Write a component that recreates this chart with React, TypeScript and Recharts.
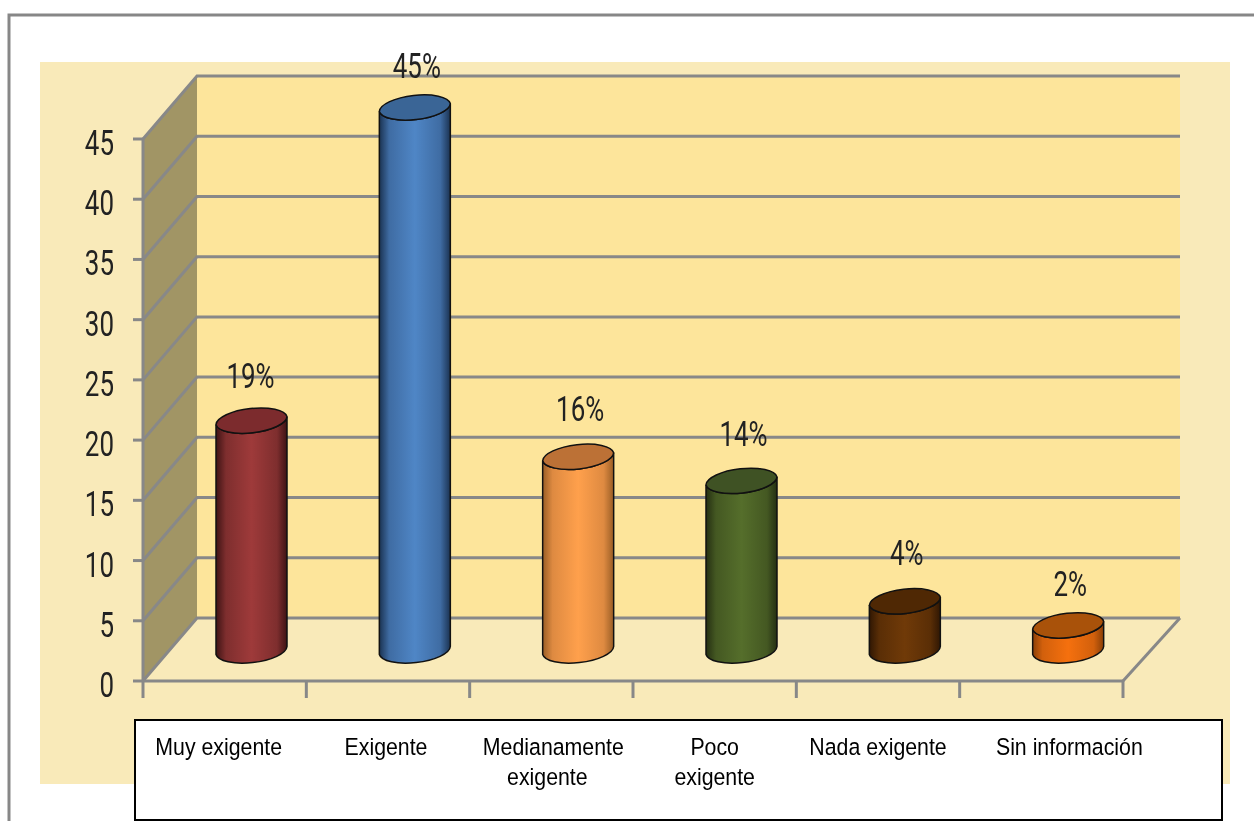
import React from 'react';
import { Bar, BarChart, CartesianGrid, LabelList, XAxis, YAxis } from 'recharts';

const categories = ['Muy exigente', 'Exigente', 'Medianamente\nexigente', 'Poco\nexigente', 'Nada exigente', 'Sin información'];
const values = [19, 45, 16, 14, 4, 2];
const yTicks = [0, 5, 10, 15, 20, 25, 30, 35, 40, 45];

// center, shade, edge, top cap
const barColors = [
  ['#9E3A3A', '#7E2E2E', '#3E1314', '#7C2B2D'],
  ['#4F86C6', '#3F6CA3', '#1B3352', '#3A6596'],
  ['#FFA04C', '#DE8A41', '#9A5E26', '#BC7136'],
  ['#556E2B', '#445822', '#252F12', '#3F5224'],
  ['#703A08', '#5A2E06', '#301703', '#4F2804'],
  ['#F5700E', '#D2600C', '#8A3F07', '#A9520A'],
];

// small nudges, the labels in the picture don't sit quite where the scale puts them
const labelNudge = [-6, -2, 2, 0, 0, 28];
const secondLineNudge = [0, 0, -6, 0, 0, 0];
const valueLabelNudgeX = [-3, 0, 0, 0, 0, 0];
const valueLabelNudgeY = [0, 3, -3, -2, -3, 4];

const data = categories.map((name, i) => ({ name, value: values[i] }));

const WIDTH = 1254;
const HEIGHT = 821;
const LEFT = 143;
const RIGHT = 1123;
const TOP = 139;
const BOTTOM = 681;
const AXIS_W = 60;
const AXIS_H = 40;
const BACK_L = 54;
const BACK_R = 57;
const BACK_UP = 63;
const GRAY = '#888888';
const BAND = (RIGHT - LEFT) / categories.length;

const CondensedText = ({ x, y, text, anchor }: any) => (
  <text
    transform={`translate(${x},${y}) scale(0.72,1)`}
    textAnchor={anchor}
    fontFamily="Roboto"
    fontWeight={400}
    fontSize={36}
    fill="#222"
  >
    {text}
  </text>
);

const gridLine = ({ x1, y1, x2 }: any) => (
  <path
    key={y1}
    d={`M${x1} ${y1}L${x1 + BACK_L} ${y1 - BACK_UP}L${x2 + BACK_R} ${y1 - BACK_UP}`}
    fill="none"
    stroke={GRAY}
    strokeWidth={3}
  />
);

const YTick = ({ x, y, payload }: any) => (
  <CondensedText x={x - 17} y={y + 16} anchor="end" text={payload.value} />
);

const XTick = ({ x, y, payload, index }: any) => {
  const left = x - BAND / 2;
  const lines = String(payload.value).split('\n');
  return (
    <g>
      <line x1={left} y1={y - 8} x2={left} y2={y + 9} stroke={GRAY} strokeWidth={3} />
      {index === categories.length - 1 && (
        <line x1={left + BAND} y1={y - 8} x2={left + BAND} y2={y + 9} stroke={GRAY} strokeWidth={3} />
      )}
      {lines.map((line, i) => (
        <text
          key={i}
          transform={`translate(${x + labelNudge[index] + (i ? secondLineNudge[index] : 0)},${755 + i * 30}) scale(0.87,1)`}
          textAnchor="middle"
          fontFamily="Liberation Sans"
          fontSize={24.5}
          fill="#000"
        >
          {line}
        </text>
      ))}
    </g>
  );
};

const Cylinder = ({ x, y, width, height, index }: any) => {
  const left = x + BACK_L / 2;
  const right = left + width;
  const top = y - BACK_UP / 2;
  const bottom = top + height + 2;
  const rx = width / 2 + 0.3;
  const ry = 13;
  const tilt = 4;
  const body =
    `M${left} ${top + tilt}L${left} ${bottom + tilt - 1}` +
    `A${rx} ${ry} -6.5 0 0 ${right} ${bottom - tilt - 1}L${right} ${top - tilt}` +
    `A${rx} ${ry} -6.5 0 1 ${left} ${top + tilt}Z`;
  const cap =
    `M${left} ${top + tilt}A${rx} ${ry} -6.5 0 1 ${right} ${top - tilt}` +
    `A${rx} ${ry} -6.5 0 1 ${left} ${top + tilt}Z`;
  return (
    <g>
      <path d={body} fill={`url(#cyl${index})`} stroke="#111" strokeWidth={1.5} />
      <path d={cap} fill={barColors[index][3]} stroke="#111" strokeWidth={1.5} />
    </g>
  );
};

const ValueLabel = ({ x, y, width, value, index }: any) => (
  <CondensedText
    x={x + width / 2 + BACK_L / 2 + 2 + valueLabelNudgeX[index]}
    y={y - BACK_UP / 2 - 33 + valueLabelNudgeY[index]}
    anchor="middle"
    text={`${value}%`}
  />
);

const Backdrop = () => (
  <svg width={WIDTH} height={HEIGHT} style={{ position: 'absolute', left: 0, top: 0 }}>
    <path d={`M9 ${HEIGHT}L9 15L${WIDTH} 15`} fill="none" stroke="#878787" strokeWidth={3} />
    <rect x={40} y={62} width={1190} height={722} fill="#F9EAB9" />
    <rect
      x={LEFT + BACK_L}
      y={TOP - BACK_UP}
      width={RIGHT + BACK_R - LEFT - BACK_L}
      height={BOTTOM - TOP}
      fill="#FDE59B"
    />
    <path
      d={`M${LEFT} ${TOP}L${LEFT + BACK_L} ${TOP - BACK_UP}L${LEFT + BACK_L} ${BOTTOM - BACK_UP}L${LEFT} ${BOTTOM}Z`}
      fill="#A19565"
    />
    <path
      d={`M${RIGHT} ${BOTTOM}L${RIGHT + BACK_R} ${BOTTOM - BACK_UP}`}
      fill="none"
      stroke={GRAY}
      strokeWidth={3}
    />
    <rect x={135} y={720} width={1087} height={100} fill="#FFF" stroke="#000" strokeWidth={2} />
  </svg>
);

export default function App() {
  return (
    <div
      style={{
        position: 'fixed',
        left: 0,
        top: 0,
        width: WIDTH,
        height: HEIGHT,
        overflow: 'hidden',
        background: '#FFF',
        filter: 'blur(0.5px)',
      }}
    >
      <Backdrop />
      <div style={{ position: 'absolute', left: 0, top: 0 }}>
        <BarChart
          width={WIDTH}
          height={HEIGHT}
          data={data}
          margin={{ left: LEFT - AXIS_W, right: WIDTH - RIGHT, top: TOP, bottom: HEIGHT - BOTTOM - AXIS_H }}
        >
          <defs>
            {barColors.map(([mid, shade, edge], i) => (
              <linearGradient key={i} id={`cyl${i}`} x1="0" y1="0" x2="1" y2="0">
                <stop offset="0%" stopColor={edge} />
                <stop offset="14%" stopColor={shade} />
                <stop offset="50%" stopColor={mid} />
                <stop offset="86%" stopColor={shade} />
                <stop offset="100%" stopColor={edge} />
              </linearGradient>
            ))}
          </defs>
          <CartesianGrid vertical={false} horizontal={gridLine} syncWithTicks />
          <XAxis
            dataKey="name"
            height={AXIS_H}
            interval={0}
            tickLine={false}
            axisLine={{ stroke: GRAY, strokeWidth: 3 }}
            tick={<XTick />}
          />
          <YAxis
            width={AXIS_W}
            domain={[0, 45]}
            ticks={yTicks}
            interval={0}
            tickSize={10}
            tickLine={{ stroke: GRAY, strokeWidth: 3 }}
            axisLine={{ stroke: GRAY, strokeWidth: 3 }}
            tick={<YTick />}
          />
          <Bar dataKey="value" barSize={71} isAnimationActive={false} shape={<Cylinder />}>
            <LabelList dataKey="value" content={<ValueLabel />} />
          </Bar>
        </BarChart>
      </div>
    </div>
  );
}
